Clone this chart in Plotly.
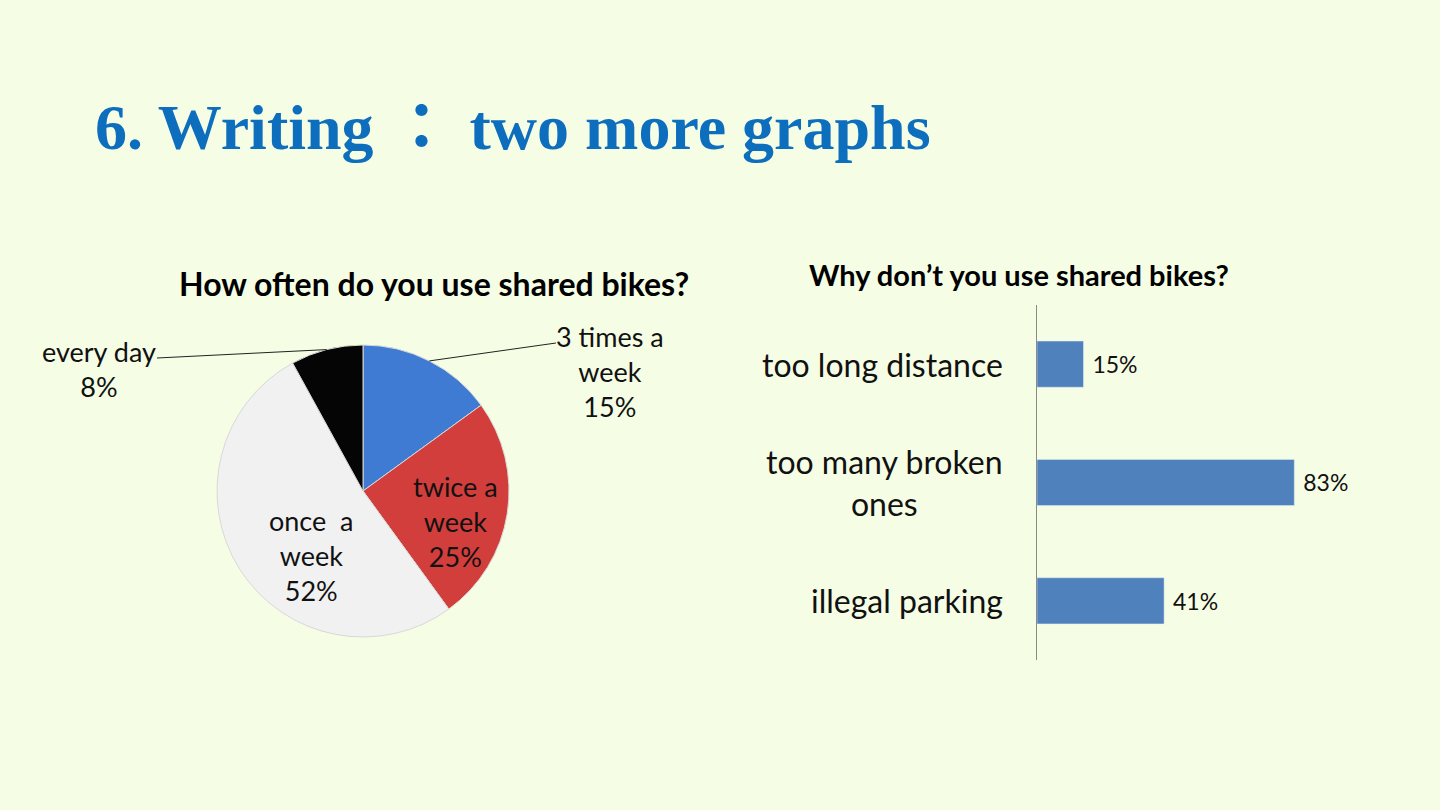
import math
import plotly.graph_objects as go

# ---------------- data ----------------
pie_labels = ["3 times a<br>week", "twice a<br>week", "once  a<br>week", "every day"]
pie_values = [15, 25, 52, 8]
pie_colors = ["#3F7BD3", "#D23E3C", "#F1F1F1", "#050505"]

bar_categories = ["too long distance", "too many broken<br>ones", "illegal parking"]
bar_values = [15, 83, 41]

main_title = "6. Writing ： two more graphs"
pie_title = "How often do you use shared bikes?"
bar_title = "Why don’t you use shared bikes?"

# ---------------- layout constants ----------------
W, H = 1440, 810
BG = "#F5FDE5"
FONT = "Lato"

cx, cy, r = 363, 491, 146  # pie centre / radius in pixels (from top-left)
pie_dom_x = [(cx - r) / W, (cx + r) / W]
pie_dom_y = [(H - cy - r) / H, (H - cy + r) / H]

fig = go.Figure()

fig.add_trace(go.Pie(
    labels=pie_labels,
    values=pie_values,
    sort=False,
    direction="clockwise",
    rotation=0,
    marker=dict(colors=pie_colors, line=dict(color="#D8D8D8", width=1)),
    textinfo="none",
    domain=dict(x=pie_dom_x, y=pie_dom_y),
    showlegend=False,
    hoverinfo="label+value",
))

fig.add_trace(go.Bar(
    y=bar_categories,
    x=bar_values,
    orientation="h",
    marker=dict(color="#4F81BD"),
    width=0.39,
    text=[f"\u00a0{v}%" for v in bar_values],
    textposition="outside",
    textfont=dict(family=FONT, size=23, color="#111111"),
    cliponaxis=False,
    xaxis="x", yaxis="y",
    showlegend=False,
))

annotations = []
shapes = []

# main title
annotations.append(dict(
    text=f"<b>{main_title}</b>", x=93 / W, y=(H - 128) / H, xref="paper", yref="paper",
    xanchor="left", yanchor="middle", showarrow=False,
    font=dict(family="Liberation Serif, Noto Sans CJK TC", size=64, color="#0E6EBE"),
))
# chart titles
annotations.append(dict(
    text=f"<b>{pie_title}</b>", x=434 / W, y=(H - 283) / H, xref="paper", yref="paper",
    xanchor="center", yanchor="middle", showarrow=False,
    font=dict(family=FONT, size=32, color="#000000"),
))
annotations.append(dict(
    text=f"<b>{bar_title}</b>", x=1019 / W, y=(H - 274) / H, xref="paper", yref="paper",
    xanchor="center", yanchor="middle", showarrow=False,
    font=dict(family=FONT, size=29, color="#000000"),
))

# pie labels: (label centre x, y, leader start x, y or None)
label_pos = {
    0: (610, 371, 556, 343),
    1: (455, 521, None, None),
    2: (311, 555, None, None),
    3: (99, 369, 157, 358),
}
total = sum(pie_values)
cum = 0
for i, v in enumerate(pie_values):
    mid = (cum + v / 2) / total * 2 * math.pi
    cum += v
    lx, ly, ex, ey = label_pos[i]
    annotations.append(dict(
        text=f"{pie_labels[i]}<br>{pie_values[i]}%", x=lx / W, y=(H - ly) / H,
        xref="paper", yref="paper", xanchor="center", yanchor="middle",
        showarrow=False, align="center",
        font=dict(family=FONT, size=27, color="#111111"),
    ))
    if ex is not None:
        px = cx + r * math.sin(mid)
        py = cy - r * math.cos(mid)
        shapes.append(dict(
            type="line", xref="paper", yref="paper",
            x0=ex / W, y0=(H - ey) / H, x1=px / W, y1=(H - py) / H,
            line=dict(color="#222222", width=1),
        ))

# bar category labels (centred multi-line)
for c in bar_categories:
    annotations.append(dict(
        text=c, x=1005 / W, y=c, xref="paper", yref="y",
        xanchor="right", yanchor="middle", showarrow=False, align="center",
        font=dict(family=FONT, size=32, color="#111111"),
    ))

fig.update_layout(
    width=W, height=H,
    paper_bgcolor=BG, plot_bgcolor=BG,
    margin=dict(l=0, r=0, t=0, b=0),
    xaxis=dict(domain=[1037 / W, 1347 / W], range=[0, 100], visible=False,
               fixedrange=True),
    yaxis=dict(domain=[(H - 660) / H, (H - 305) / H], range=[2.5, -0.5],
               type="category", categoryorder="array", categoryarray=bar_categories,
               showticklabels=False, showgrid=False, zeroline=False,
               showline=True, linecolor="#8A8A8A", linewidth=1, ticks="",
               anchor="x", fixedrange=True),
    annotations=annotations,
    shapes=shapes,
)

fig.write_html(
    "out.html",
    config={"displayModeBar": False},
    post_script=f"document.body.style.margin='0';document.body.style.background='{BG}';",
)
